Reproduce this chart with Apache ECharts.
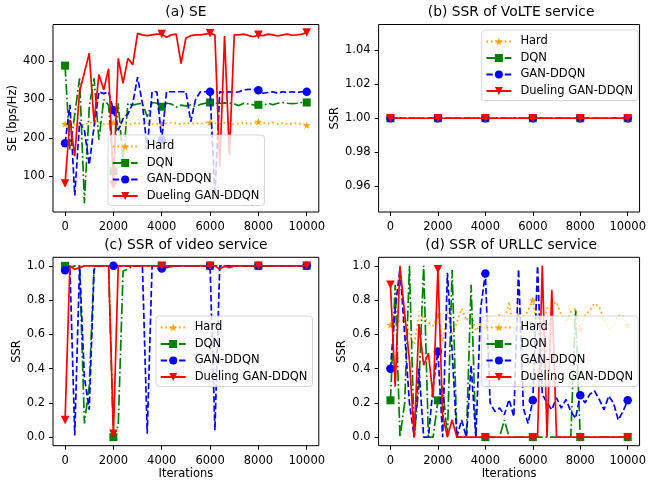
<!DOCTYPE html>
<html>
<head>
<meta charset="utf-8">
<script src="https://cdn.jsdelivr.net/npm/echarts@6/dist/echarts.min.js"></script>
<style>
  html, body { margin: 0; padding: 0; background: #fff; }
  #chart { width: 649px; height: 485px; }
</style>
</head>
<body>
<div id="chart"></div>
<script>
// Training iterations (one sample every 200 iterations)
const iterations = [0,200,400,600,800,1000,1200,1400,1600,1800,2000,2200,2400,2600,2800,3000,3200,3400,3600,3800,4000,4200,4400,4600,4800,5000,5200,5400,5600,5800,6000,6200,6400,6600,6800,7000,7200,7400,7600,7800,8000,8200,8400,8600,8800,9000,9200,9400,9600,9800,10000];
// Iterations where markers are drawn
const markerIters = [0,2000,4000,6000,8000,10000];
const xTicks = [0,2000,4000,6000,8000,10000];

const methodNames = ['Hard', 'DQN', 'GAN-DDQN', 'Dueling GAN-DDQN'];

// (a) spectral efficiency, bps/Hz
const seHard = [236,240,234,238,233,241,236,239,235,237,240,236,238,234,237,239,236,238,235,237,236,238,240,237,236,239,237,238,236,240,240,238,236,239,237,235,238,240,236,238,242,239,237,240,236,238,235,237,239,236,233];
const seDqn = [388,170,260,355,30,280,355,195,300,285,113,290,140,290,285,288,290,255,292,290,281,290,288,280,285,283,285,282,287,290,292,290,290,291,290,288,284,290,288,286,286,284,290,286,290,292,290,289,290,292,292];
const seGan = [186,286,50,240,220,130,230,320,315,320,272,220,250,262,290,358,290,170,320,320,195,320,320,320,320,320,242,300,320,320,320,50,320,318,320,318,320,325,326,326,324,316,318,320,316,320,318,320,318,320,320];
const seDueling = [81,247,152,320,370,420,240,365,325,380,78,407,342,407,390,472,468,466,468,470,470,462,468,470,393,460,466,468,468,470,472,468,125,465,155,468,468,470,466,463,468,466,470,468,465,468,470,467,468,470,474];

// (b) SSR of VoLTE service
const volteHard = [1,1,1,1,1,1,1,1,1,1,1,1,1,1,1,1,1,1,1,1,1,1,1,1,1,1,1,1,1,1,1,1,1,1,1,1,1,1,1,1,1,1,1,1,1,1,1,1,1,1,1];
const volteDqn = [1,1,1,1,1,1,1,1,1,1,1,1,1,1,1,1,1,1,1,1,1,1,1,1,1,1,1,1,1,1,1,1,1,1,1,1,1,1,1,1,1,1,1,1,1,1,1,1,1,1,1];
const volteGan = [1,1,1,1,1,1,1,1,1,1,1,1,1,1,1,1,1,1,1,1,1,1,1,1,1,1,1,1,1,1,1,1,1,1,1,1,1,1,1,1,1,1,1,1,1,1,1,1,1,1,1];
const volteDueling = [1,1,1,1,1,1,1,1,1,1,1,1,1,1,1,1,1,1,1,1,1,1,1,1,1,1,1,1,1,1,1,1,1,1,1,1,1,1,1,1,1,1,1,1,1,1,1,1,1,1,1];

// (c) SSR of video service
const videoHard = [1,1,1,1,1,1,1,1,1,1,1,1,1,1,1,1,1,1,1,1,1,1,1,1,1,1,1,1,1,1,1,1,1,1,1,1,1,1,1,1,1,1,1,1,1,1,1,1,1,1,1];
const videoDqn = [1,0.99,1,1,0.08,0.3,1,1,1,1,0,0.07,0.97,0.98,1,1,1,1,1,1,1,1,0.995,1,1,1,1,1,1,1,1,1,1,1,1,1,1,1,1,1,1,1,1,1,1,1,1,1,1,1,1];
const videoGan = [0.975,1,0.01,1,0.35,0.16,0.98,1,1,1,1,1,1,1,1,1,1,0.02,1,1,0.985,0.99,1,1,1,1,1,1,1,1,1,0.04,1,0.995,1,1,1,1,1,1,1,1,1,1,1,1,1,1,1,1,1];
const videoDueling = [0.1,1,0.98,0.99,1,1,1,1,1,1,0.02,1,1,1,1,1,1,1,1,1,1,1,1,1,1,1,1,1,1,1,1,1,0.98,1,0.99,1,1,1,1,1,1,1,1,1,1,1,1,1,1,1,1];

// (d) SSR of URLLC service
const urllcHard = [0.655,0.73,0.67,0.69,0.6,0.54,0.71,0.7,0.67,0.65,0.71,0.56,0.73,0.6,0.67,0.75,0.68,0.72,0.62,0.66,0.64,0.7,0.66,0.72,0.68,0.79,0.6,0.73,0.69,0.74,0.8,0.63,0.6,0.75,0.77,0.79,0.71,0.67,0.73,0.75,0.63,0.71,0.74,0.78,0.76,0.69,0.63,0.65,0.71,0.71,0.655];
const urllcDqn = [0.215,0.89,0,0.2,1,0,0.3,1,0,0,0.215,0.3,0,0.975,0,0,0,0.89,0,0,0,0,0,0,0.1,0,0,0,0,0,0,0,0,0,0,0,0,0,0,0.74,0,0,0,0,0,0,0,0,0,0,0];
const urllcGan = [0.4,0.75,0.98,0.6,0.2,0,0.4,0,0,0.3,0.5,0,0.96,0.5,0,0.1,0,0.42,0,0.75,0.955,0.2,0.15,0.17,0.13,0.22,0.12,0.98,0.17,0.08,0.215,1,0.25,0.2,0.16,0.23,0.17,0.22,0.15,0.11,0.245,0.2,0.25,0.27,0.22,0.16,0.24,0.2,0.1,0.15,0.215];
const urllcDueling = [0.89,0.295,1,0.72,0.45,0,0.66,0.42,0.49,0.23,0.98,0.13,0,0.1,0,0,0,0,0,0,0,0,0,0,0,0,0,0,0,0,0,0,1,0,0.86,0,0,0,0,0,0,0,0,0,0,0,0,0,0,0,0];

const FONT = 'DejaVu Sans';
const STAR = 'path://M0,-1L0.2245,-0.309L0.951,-0.309L0.363,0.118L0.588,0.809L0,0.382L-0.588,0.809L-0.363,0.118L-0.951,-0.309L-0.2245,-0.309Z';
const TRI_DOWN = 'path://M-1,-1L1,-1L0,1Z';

// Per-method drawing style
const styles = {
  'Hard':             { color: '#FFA500', dash: [1.7, 2.85], symbol: STAR, size: 8 },
  'DQN':              { color: '#008000', dash: [11, 2.8, 1.7, 2.8], symbol: 'rect', size: 8 },
  'GAN-DDQN':         { color: '#0000FF', dash: [6.4, 2.8], symbol: 'circle', size: 8.5 },
  'Dueling GAN-DDQN': { color: '#FF0000', dash: 'solid', symbol: TRI_DOWN, size: 8.5 }
};

function makeSeries(name, values, idx, order) {
  const st = styles[name];
  const data = iterations.map((it, i) => {
    const item = { value: [it, values[i]] };
    if (markerIters.indexOf(it) < 0) item.symbol = 'none';
    return item;
  });
  return {
    type: 'line', name: name,
    xAxisIndex: idx, yAxisIndex: idx,
    data: data,
    z: 3 + order,
    symbol: st.symbol, symbolSize: st.size, symbolKeepAspect: true,
    showSymbol: true, showAllSymbol: true,
    animation: false,
    clip: true,
    itemStyle: { color: st.color, borderWidth: 0 },
    lineStyle: { color: st.color, width: 1.7, type: st.dash },
    emphasis: { disabled: true }
  };
}

const panels = [
  { title: '(a) SE', left: 53, top: 24.5, width: 265.8, height: 187.5,
    yMin: 7, yMax: 495, yTicks: [100,200,300,400], fmt: v => String(v), yName: 'SE (bps/Hz)', yGap: 33,
    xName: '', legend: { left: 108, top: 135 },
    sets: [seHard, seDqn, seGan, seDueling] },
  { title: '(b) SSR of VoLTE service', left: 378.6, top: 24.5, width: 265, height: 187.5,
    yMin: 0.945, yMax: 1.055, yTicks: [0.96,0.98,1.00,1.02,1.04], fmt: v => v.toFixed(2), yName: 'SSR', yGap: 28,
    xName: '', legend: { left: 481.7, top: 30 },
    sets: [volteHard, volteDqn, volteGan, volteDueling] },
  { title: '(c) SSR of video service', left: 53, top: 257.3, width: 265.8, height: 188.4,
    yMin: -0.05, yMax: 1.05, yTicks: [0,0.2,0.4,0.6,0.8,1.0], fmt: v => v.toFixed(1), yName: 'SSR', yGap: 30,
    xName: 'Iterations', legend: { left: 156, top: 316 },
    sets: [videoHard, videoDqn, videoGan, videoDueling] },
  { title: '(d) SSR of URLLC service', left: 378.6, top: 257.3, width: 265, height: 188.4,
    yMin: -0.05, yMax: 1.05, yTicks: [0,0.2,0.4,0.6,0.8,1.0], fmt: v => v.toFixed(1), yName: 'SSR', yGap: 30,
    xName: 'Iterations', legend: { left: 481.7, top: 316 },
    sets: [urllcHard, urllcDqn, urllcGan, urllcDueling] }
];

const grid = [], xAxis = [], yAxis = [], series = [], title = [], legend = [];
const txt = { fontFamily: FONT, fontSize: 11.5, color: '#000' };

panels.forEach((p, k) => {
  grid.push({ left: p.left, top: p.top, width: p.width, height: p.height,
    show: true, borderColor: '#000', borderWidth: 1, backgroundColor: 'transparent' });
  xAxis.push({
    type: 'value', gridIndex: k, min: -500, max: 10500,
    axisLine: { show: false, onZero: false },
    axisTick: { show: true, inside: false, length: 4, customValues: xTicks, lineStyle: { color: '#000', width: 1 } },
    axisLabel: { show: true, customValues: xTicks, margin: 9, formatter: v => String(v), ...txt },
    splitLine: { show: false },
    name: p.xName, nameLocation: 'middle', nameGap: 20, nameTextStyle: txt
  });
  yAxis.push({
    type: 'value', gridIndex: k, min: p.yMin, max: p.yMax,
    axisLine: { show: false, onZero: false },
    axisTick: { show: true, inside: false, length: 4, customValues: p.yTicks, lineStyle: { color: '#000', width: 1 } },
    axisLabel: { show: true, customValues: p.yTicks, margin: 8, formatter: p.fmt, ...txt },
    splitLine: { show: false },
    name: p.yName, nameLocation: 'middle', nameGap: p.yGap, nameRotate: 90, nameTextStyle: txt
  });
  title.push({
    text: p.title, left: p.left + p.width / 2, top: p.top - 12.3,
    textAlign: 'center', textVerticalAlign: 'middle', padding: 0,
    textStyle: { fontFamily: FONT, fontSize: 13.8, fontWeight: 'normal', color: '#000' }
  });
  legend.push({
    show: true, orient: 'vertical', left: p.legend.left, top: p.legend.top,
    data: methodNames, itemWidth: 25, itemHeight: 10, itemGap: 4.5,
    padding: [5.5, 5, 3.5, 3.7],
    backgroundColor: 'rgba(255,255,255,0.8)', borderColor: 'rgba(204,204,204,0.8)',
    borderWidth: 1, borderRadius: 3,
    itemStyle: { borderWidth: 0 },
    selectedMode: false, z: 20,
    textStyle: { fontFamily: FONT, fontSize: 11.5, color: '#000', padding: [0, 0, 0, 4] }
  });
  methodNames.forEach((nm, j) => series.push(makeSeries(nm, p.sets[j], k, j)));
});

const chart = echarts.init(document.getElementById('chart'), null, { renderer: 'canvas' });
chart.setOption({
  backgroundColor: '#fff',
  animation: false,
  title, legend, grid, xAxis, yAxis, series
});
</script>
</body>
</html>
